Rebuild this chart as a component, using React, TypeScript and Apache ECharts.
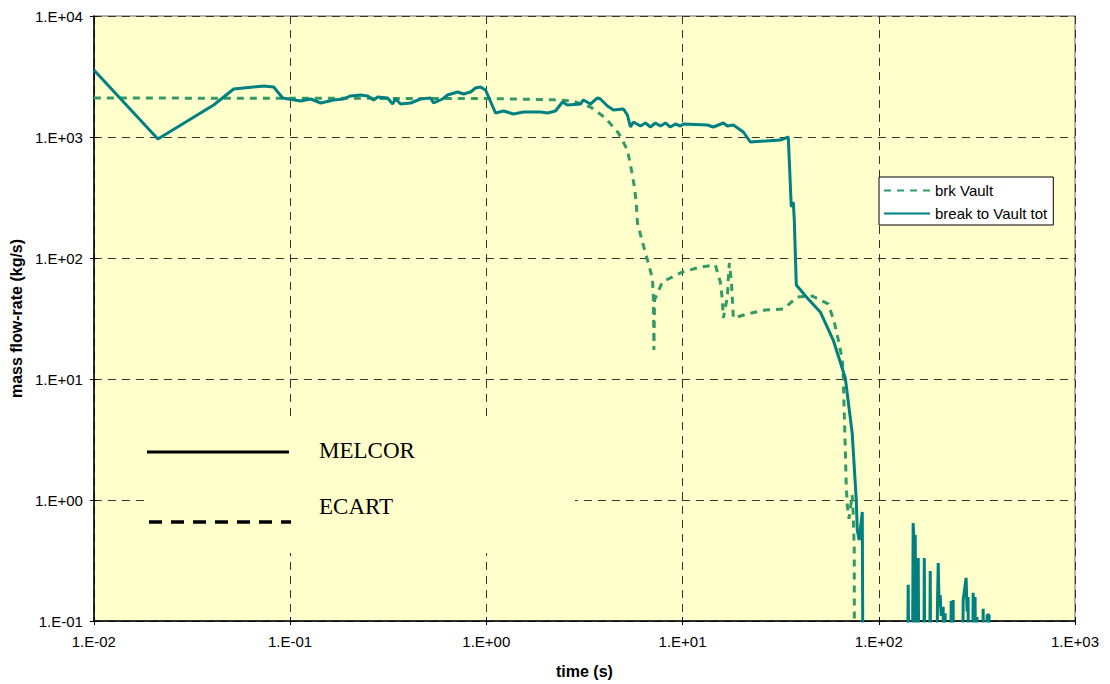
import { useEffect, useRef } from "react";
import * as echarts from "echarts";

// Axis tick labels (one per decade)
const xTickLabels = ["1.E-02", "1.E-01", "1.E+00", "1.E+01", "1.E+02", "1.E+03"];
const yTickLabels = ["1.E-01", "1.E+00", "1.E+01", "1.E+02", "1.E+03", "1.E+04"];
const xMin = 0.01;
const xMax = 1000;
const yMin = 0.1;
const yMax = 10000;

// "brk Vault" (ECART) : time (s) / mass flow-rate (kg/s)
const brkTime = [
  0.01, 1.0, 2.199, 2.748, 3.395, 4.046, 4.713, 5.237, 5.489, 5.686, 5.821, 5.89,
  6.245, 6.62, 7.02, 7.1, 7.145, 7.2, 7.89, 9.98, 12.33, 14.7, 15.58, 15.96, 16.14,
  16.92, 17.12, 17.32, 17.74, 17.95, 18.15, 21.38, 26.42, 32.63, 38.45, 45.83, 55.3,
  59.3, 62.2, 65.2, 65.9, 66.7, 67.5, 68.3, 69.1, 70.5, 73.2, 74.1, 75.0, 75.2,
];
const brkRate = [
  2100, 2080, 2030, 1984, 1770, 1436, 1079, 781, 534, 386, 274, 195,
  135.6, 96.3, 68.4, 47.6, 17.4, 45, 63.4, 76.6, 84.3, 87.5, 63.4, 45.0, 31.9,
  47.6, 68.4, 90.9, 63.4, 45.0, 31.9, 34.5, 37.2, 37.9, 47.6, 48.5, 41.7,
  29.6, 21.0, 14.4, 10.4, 5.24, 2.59, 1.28, 0.9, 0.7, 1.1, 0.78, 0.386, 0.01,
];

// "break to Vault tot" (MELCOR) : time (s) / mass flow-rate (kg/s)
const totTime = [
  0.01, 0.0212, 0.0408, 0.0516, 0.0734, 0.0825, 0.0917, 0.1132, 0.1274, 0.1432,
  0.1667, 0.1875, 0.2035, 0.2288, 0.2484, 0.2666, 0.2794, 0.3141, 0.333, 0.3449,
  0.3659, 0.4114, 0.4624, 0.52, 0.5385, 0.5985, 0.6346, 0.7137, 0.766, 0.8311,
  0.8813, 0.9348, 0.991, 1.114, 1.224, 1.376, 1.547, 1.888, 2.05, 2.252, 2.444,
  2.592, 3.019, 3.126, 3.395, 3.685, 3.816, 4.143, 4.445, 4.998, 5.237, 5.425,
  5.619, 6.1, 6.47, 6.86, 7.27, 7.71, 8.18, 8.67, 9.19, 9.75, 10.1, 13.38, 14.36,
  16.14, 16.92, 18.15, 20.41, 22.16, 31.49, 34.58, 35.83, 36.68, 37.11, 37.99,
  43.22, 50.33, 58.6, 67.5, 73.2, 76.8, 77.7, 79.5, 82.4, 83.3,
  139, 141.3, 143, 148, 149.7, 151.5, 153.4, 155, 157, 158.9, 160.5, 169, 170.6,
  172, 181, 182.9, 184.5, 198, 199, 200.9, 203, 205.6, 208, 212.9, 215, 217.9,
  219.5, 231, 233.9, 236.5, 239.4, 241, 267, 269.2, 278.6, 282, 285.2, 288, 300,
  302.6, 306, 309.6, 313, 316.9, 319, 338, 340.4, 343, 354, 356.5, 364.8, 367, 1000,
];
const totRate = [
  3580, 963, 1839, 2493, 2639, 2589, 2101, 1984, 2061, 1910,
  2023, 2061, 2183, 2225, 2183, 2023, 2141, 2101, 1874, 2061,
  1874, 1910, 2061, 2101, 1910, 2061, 2225, 2355, 2267, 2355,
  2541, 2589, 2446, 1579, 1641, 1549, 1609, 1609, 1579, 1641, 1947,
  1839, 1874, 2023, 1874, 2101, 2061, 1804, 1672, 1704, 1520, 1210,
  1330, 1233, 1305, 1210, 1305, 1233, 1305, 1210, 1281, 1233, 1281, 1257, 1210,
  1305, 1233, 1257, 1100, 909, 944, 1000, 264, 290, 206, 59.8,
  46.7, 35.8, 21.0, 10.2, 3.58, 1.0, 0.565, 0.467, 0.796, 0.01,
  0.01, 0.199, 0.01, 0.01, 0.646, 0.45, 0.514, 0.01, 0.01, 0.332, 0.01, 0.01, 0.332,
  0.01, 0.01, 0.259, 0.01, 0.01, 0.13, 0.302, 0.13, 0.164, 0.11, 0.131, 0.01, 0.116,
  0.01, 0.01, 0.146, 0.12, 0.149, 0.01, 0.01, 0.149, 0.227, 0.12, 0.158, 0.01, 0.01,
  0.171, 0.12, 0.158, 0.01, 0.108, 0.01, 0.01, 0.126, 0.01, 0.01, 0.112, 0.112, 0.01, 0.01,
];

const W = 1110;
const H = 684;
const GRID = { left: 93, right: 35, top: 16, bottom: 63 };
const plotW = W - GRID.left - GRID.right;
const plotH = H - GRID.top - GRID.bottom;

const decadeLabel = (labels: string[], minVal: number) => (v: number) => {
  const idx = Math.round(Math.log10(v) - Math.log10(minVal));
  return labels[idx] ?? "";
};

const gridLine = { show: true, lineStyle: { color: "#333", width: 1, type: [8, 6] as number[] } };
const fontFamily = "'Liberation Sans', Arial, sans-serif";

export default function App() {
  const ref = useRef<HTMLDivElement>(null);

  useEffect(() => {
    if (!ref.current) return;
    const chart = echarts.init(ref.current, undefined, { renderer: "svg" });

    const brkData = brkTime.map((t, i) => [t, brkRate[i]]);
    const totData = totTime.map((t, i) => [t, totRate[i]]);

    chart.setOption({
      animation: false,
      backgroundColor: "#ffffff",
      textStyle: { fontFamily, color: "#000" },
      grid: {
        ...GRID,
        show: true,
        backgroundColor: "#FFFFCC",
        borderColor: "#999",
        borderWidth: 1.5,
      },
      legend: {
        left: 879,
        top: 177,
        orient: "vertical",
        backgroundColor: "#fff",
        borderColor: "#000",
        borderWidth: 1,
        borderRadius: 0,
        padding: [6, 6, 4, 4],
        itemWidth: 46,
        itemHeight: 14,
        itemGap: 8,
        selectedMode: false,
        // line-only keys: hide the marker drawn in the middle of each key
        itemStyle: { opacity: 0 },
        textStyle: { fontSize: 15, color: "#000", fontFamily },
        data: ["brk Vault", "break to Vault tot"],
      },
      xAxis: [
        {
          type: "log",
          logBase: 10,
          min: xMin,
          max: xMax,
          position: "bottom",
          name: "time (s)",
          nameLocation: "middle",
          nameGap: 42,
          nameTextStyle: { fontSize: 16, fontWeight: "bold", color: "#000", fontFamily },
          axisLine: { show: true, onZero: false, lineStyle: { color: "#000", width: 1.5 } },
          axisTick: { show: true, inside: false, length: 4, lineStyle: { color: "#000" } },
          axisLabel: {
            margin: 13,
            fontSize: 15,
            color: "#000",
            fontFamily,
            formatter: decadeLabel(xTickLabels, xMin),
          },
          splitLine: gridLine,
        },
        {
          // inner half of the cross tick marks along the time axis
          type: "log",
          logBase: 10,
          min: xMin,
          max: xMax,
          position: "top",
          offset: -plotH,
          axisLine: { show: false },
          axisTick: { show: true, inside: false, length: 4, lineStyle: { color: "#000" } },
          axisLabel: { show: false },
          splitLine: { show: false },
        },
      ],
      yAxis: [
        {
          type: "log",
          logBase: 10,
          min: yMin,
          max: yMax,
          position: "left",
          name: "mass flow-rate (kg/s)",
          nameLocation: "middle",
          nameGap: 68,
          nameRotate: 90,
          nameTextStyle: { fontSize: 16, fontWeight: "bold", color: "#000", fontFamily },
          axisLine: { show: true, onZero: false, lineStyle: { color: "#000", width: 1.5 } },
          axisTick: { show: true, inside: false, length: 4, lineStyle: { color: "#000" } },
          axisLabel: {
            margin: 11,
            fontSize: 15,
            color: "#000",
            fontFamily,
            formatter: decadeLabel(yTickLabels, yMin),
          },
          splitLine: gridLine,
        },
        {
          // inner half of the cross tick marks along the flow-rate axis
          type: "log",
          logBase: 10,
          min: yMin,
          max: yMax,
          position: "right",
          offset: -plotW,
          axisLine: { show: false },
          axisTick: { show: true, inside: false, length: 4, lineStyle: { color: "#000" } },
          axisLabel: { show: false },
          splitLine: { show: false },
        },
      ],
      series: [
        {
          name: "brk Vault",
          type: "line",
          xAxisIndex: 0,
          yAxisIndex: 0,
          data: brkData,
          symbol: "none",
          showSymbol: false,
          clip: true,
          z: 3,
          itemStyle: { color: "#339966" },
          lineStyle: { color: "#339966", width: 3, type: [7, 6] },
        },
        {
          name: "break to Vault tot",
          type: "line",
          xAxisIndex: 0,
          yAxisIndex: 0,
          data: totData,
          symbol: "none",
          showSymbol: false,
          clip: true,
          z: 4,
          itemStyle: { color: "#008080" },
          lineStyle: { color: "#008080", width: 3 },
        },
      ],
      graphic: [
        {
          type: "rect",
          z: 10,
          shape: { x: 147, y: 418, width: 428, height: 135 },
          style: { fill: "#FFFFCC" },
        },
        {
          type: "line",
          z: 11,
          shape: { x1: 147, y1: 452, x2: 289, y2: 452 },
          style: { stroke: "#000", lineWidth: 3 },
        },
        {
          type: "text",
          z: 11,
          x: 319,
          y: 450,
          style: {
            text: "MELCOR",
            fill: "#000",
            font: "23px 'Liberation Serif', 'Times New Roman', serif",
            verticalAlign: "middle",
            align: "left",
          },
        },
        {
          type: "line",
          z: 11,
          shape: { x1: 149, y1: 522, x2: 291, y2: 522 },
          style: { stroke: "#000", lineWidth: 3.5, lineDash: [13, 9] },
        },
        {
          type: "text",
          z: 11,
          x: 319,
          y: 506,
          style: {
            text: "ECART",
            fill: "#000",
            font: "23px 'Liberation Serif', 'Times New Roman', serif",
            verticalAlign: "middle",
            align: "left",
          },
        },
      ],
    });

    return () => chart.dispose();
  }, []);

  return (
    <div
      ref={ref}
      style={{ position: "absolute", left: 0, top: 0, width: W, height: H }}
    />
  );
}
